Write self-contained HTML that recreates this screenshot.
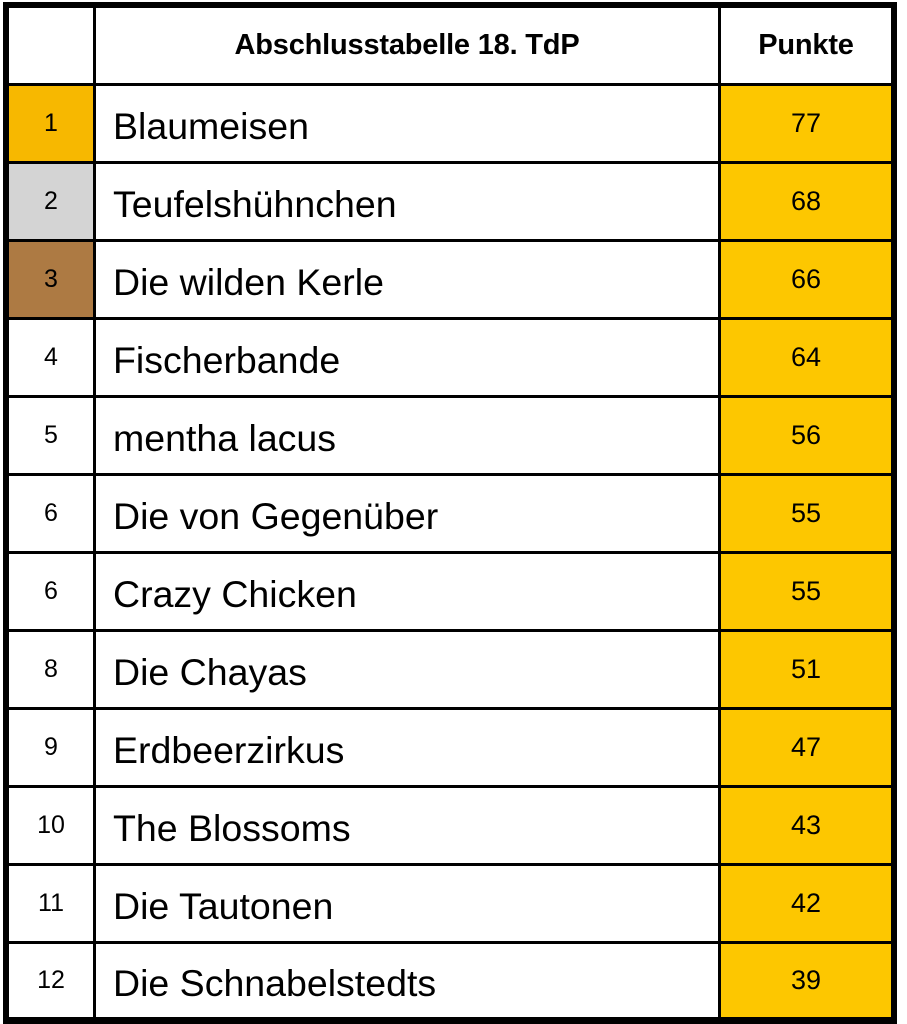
<!DOCTYPE html><html><head><style>
body{margin:0;width:907px;height:1024px;background:#fff;position:relative;overflow:hidden;font-family:"Liberation Sans",Arial,sans-serif}
.o{position:absolute;left:3px;top:2px;width:894px;height:1022px;background:#000}
.c{position:absolute;display:flex;align-items:center;justify-content:center;color:#000;background:#fff}
.n{justify-content:flex-start;padding-left:17px;padding-top:5px;box-sizing:border-box;font-size:37.5px}
.r{font-size:25px}.p{font-size:27px;background:#FDC700}
.h{font-weight:bold;font-size:29px;letter-spacing:-0.2px}
</style></head><body><div class="o"></div>
<div class="c" style="left:9px;top:8px;width:84px;height:75px"></div>
<div class="c h" style="left:96px;top:8px;width:622px;height:75px">Abschlusstabelle 18. TdP</div>
<div class="c h" style="left:721px;top:8px;width:170px;height:75px">Punkte</div>
<div id="rows"></div>
<script>
var d=[["1","Blaumeisen","77","#F7B800"],["2","Teufelshühnchen","68","#D4D4D4"],["3","Die wilden Kerle","66","#AD7A43"],["4","Fischerbande","64"],["5","mentha lacus","56"],["6","Die von Gegenüber","55"],["6","Crazy Chicken","55"],["8","Die Chayas","51"],["9","Erdbeerzirkus","47"],["10","The Blossoms","43"],["11","Die Tautonen","42"],["12","Die Schnabelstedts","39"]];
var h="";d.forEach(function(r,i){var t=86+i*78,ht=i==11?73:75;
h+='<div class="c r" style="left:9px;top:'+t+'px;width:84px;height:'+ht+'px;background:'+(r[3]||"#fff")+'">'+r[0]+'</div>';
h+='<div class="c n" style="left:96px;top:'+t+'px;width:622px;height:'+ht+'px">'+r[1]+'</div>';
h+='<div class="c p" style="left:721px;top:'+t+'px;width:170px;height:'+ht+'px">'+r[2]+'</div>';});
document.getElementById("rows").innerHTML=h;
</script></body></html>
